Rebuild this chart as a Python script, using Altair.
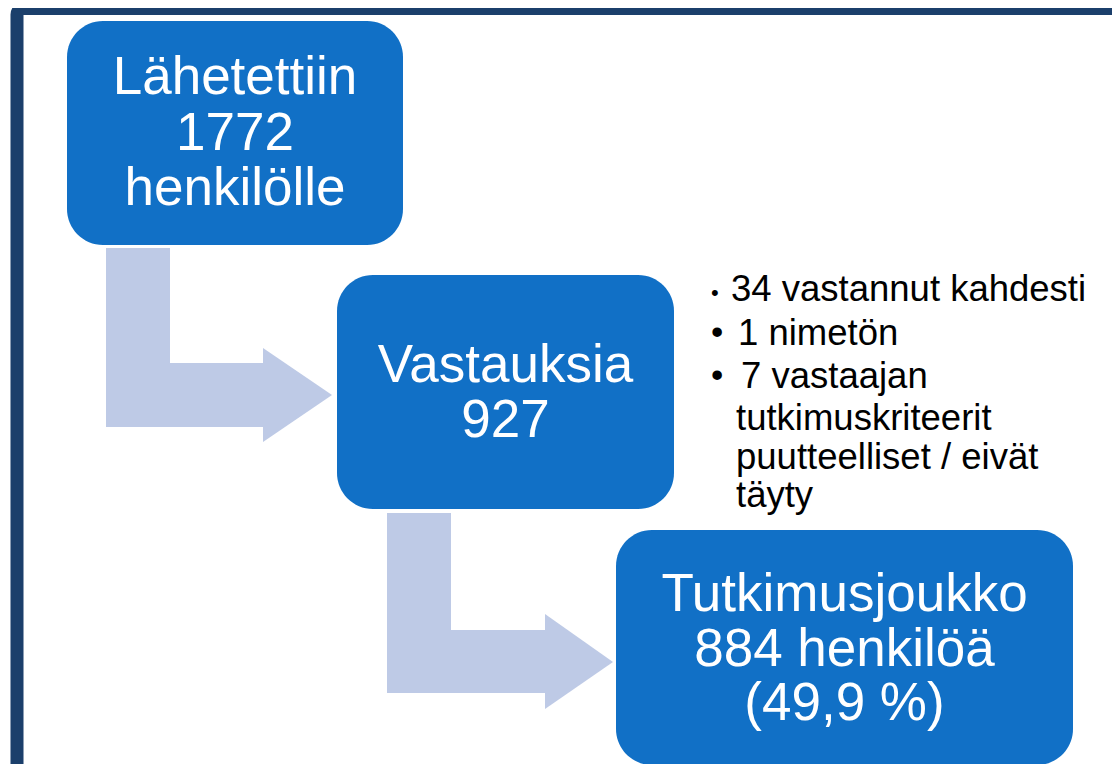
import altair as alt
import pandas as pd

# ---- canvas (page pixels) ----
W, H = 1104, 756
OFF = 8

# ---- colours ----
FRAME = "#1B3F6B"
BOX = "#1170C6"
ARROW = "#BECAE6"
FONT = "Liberation Sans"

# ---- frame ----
frame_x = [17]
frame_x2 = [1135]
frame_y = [8.5]
frame_y2 = [781.5]

# ---- boxes ----
box_x0 = [67, 337, 616]
box_x1 = [403, 674, 1073]
box_y0 = [21, 275, 530]
box_y1 = [245, 509, 765]

# ---- box texts ----
box_text = ["Lähetettiin", "1772", "henkilölle",
            "Vastauksia", "927",
            "Tutkimusjoukko", "884 henkilöä", "(49,9 %)"]
box_text_x = [235, 235, 235, 505.5, 505.5, 844.5, 844.5, 844.5]
box_text_y = [94, 150, 205, 382, 437, 611, 666, 720]

# ---- arrows (L-shaped) ----
stem_x0 = [106, 387]
stem_x1 = [170, 451]
stem_y0 = [248, 513]
stem_y1 = [427, 693]
bar_x0 = [106, 387]
bar_x1 = [263, 545]
bar_y0 = [363, 630]
bar_y1 = [427, 693]
head_x0 = [263, 545]
head_tip_x = [332, 613]
head_y0 = [348, 614]
head_y1 = [442, 709]
head_tip_y = [395, 662]

# ---- bullet list ----
bullet_lines = ["34 vastannut kahdesti", "1 nimetön", "7 vastaajan",
                "tutkimuskriteerit", "puutteelliset / eivät", "täyty"]
bullet_line_x = [731, 738, 741, 736, 736, 736]
bullet_line_y = [301, 345, 388, 430, 469, 507]
dot_x = [711, 711, 711]
dot_y = [300, 344, 387]
dot_size = [22, 35, 35]

xs = alt.Scale(domain=[OFF, OFF + W], nice=False, zero=False)
ys = alt.Scale(domain=[OFF, OFF + H], nice=False, zero=False, reverse=True)


def X(f):
    return alt.X(f, type="quantitative", scale=xs, axis=None)


def Y(f):
    return alt.Y(f, type="quantitative", scale=ys, axis=None)


frame_df = pd.DataFrame({"x": frame_x, "x2": frame_x2, "y": frame_y, "y2": frame_y2})
frame = alt.Chart(frame_df).mark_rect(
    fillOpacity=0, stroke=FRAME, strokeWidth=13, cornerRadius=6
).encode(x=X("x"), x2="x2", y=Y("y"), y2="y2")

rect_df = pd.DataFrame({
    "x": stem_x0 + bar_x0, "x2": stem_x1 + bar_x1,
    "y": stem_y0 + bar_y0, "y2": stem_y1 + bar_y1,
})
arrow_rects = alt.Chart(rect_df).mark_rect(color=ARROW).encode(
    x=X("x"), x2="x2", y=Y("y"), y2="y2")

head_rows = []
for i in range(len(head_x0)):
    head_rows.append({"g": i, "x": head_x0[i], "y": head_y0[i], "y2": head_y1[i]})
    head_rows.append({"g": i, "x": head_tip_x[i], "y": head_tip_y[i], "y2": head_tip_y[i]})
head_df = pd.DataFrame(head_rows)
arrow_heads = alt.Chart(head_df).mark_area(color=ARROW, orient="vertical", opacity=1).encode(
    x=X("x"), y=Y("y"), y2="y2", detail="g:N")

box_df = pd.DataFrame({"x": box_x0, "x2": box_x1, "y": box_y0, "y2": box_y1})
boxes = alt.Chart(box_df).mark_rect(color=BOX, cornerRadius=36).encode(
    x=X("x"), x2="x2", y=Y("y"), y2="y2")

bt_df = pd.DataFrame({"t": box_text, "x": box_text_x, "y": box_text_y})
box_texts = alt.Chart(bt_df).mark_text(
    align="center", baseline="alphabetic", font=FONT, fontSize=53, color="white"
).encode(x=X("x"), y=Y("y"), text="t:N")

bl_df = pd.DataFrame({"t": bullet_lines, "x": bullet_line_x, "y": bullet_line_y})
bullet_texts = alt.Chart(bl_df).mark_text(
    align="left", baseline="alphabetic", font=FONT, fontSize=36.5, color="black"
).encode(x=X("x"), y=Y("y"), text="t:N")

dot_df = pd.DataFrame({"t": ["•"] * 3, "x": dot_x, "y": dot_y, "s": dot_size})
dots = alt.Chart(dot_df).mark_text(
    align="left", baseline="alphabetic", font=FONT, color="black"
).encode(x=X("x"), y=Y("y"), text="t:N", size=alt.Size("s:Q", scale=None, legend=None))

chart = alt.layer(frame, arrow_rects, arrow_heads, boxes, box_texts, bullet_texts, dots).properties(
    width=W, height=H, padding=0, autosize=alt.AutoSizeParams(type="none"), background="white"
).configure_view(stroke=None)

chart.save("out.html", embed_options={"renderer": "svg", "actions": False})
